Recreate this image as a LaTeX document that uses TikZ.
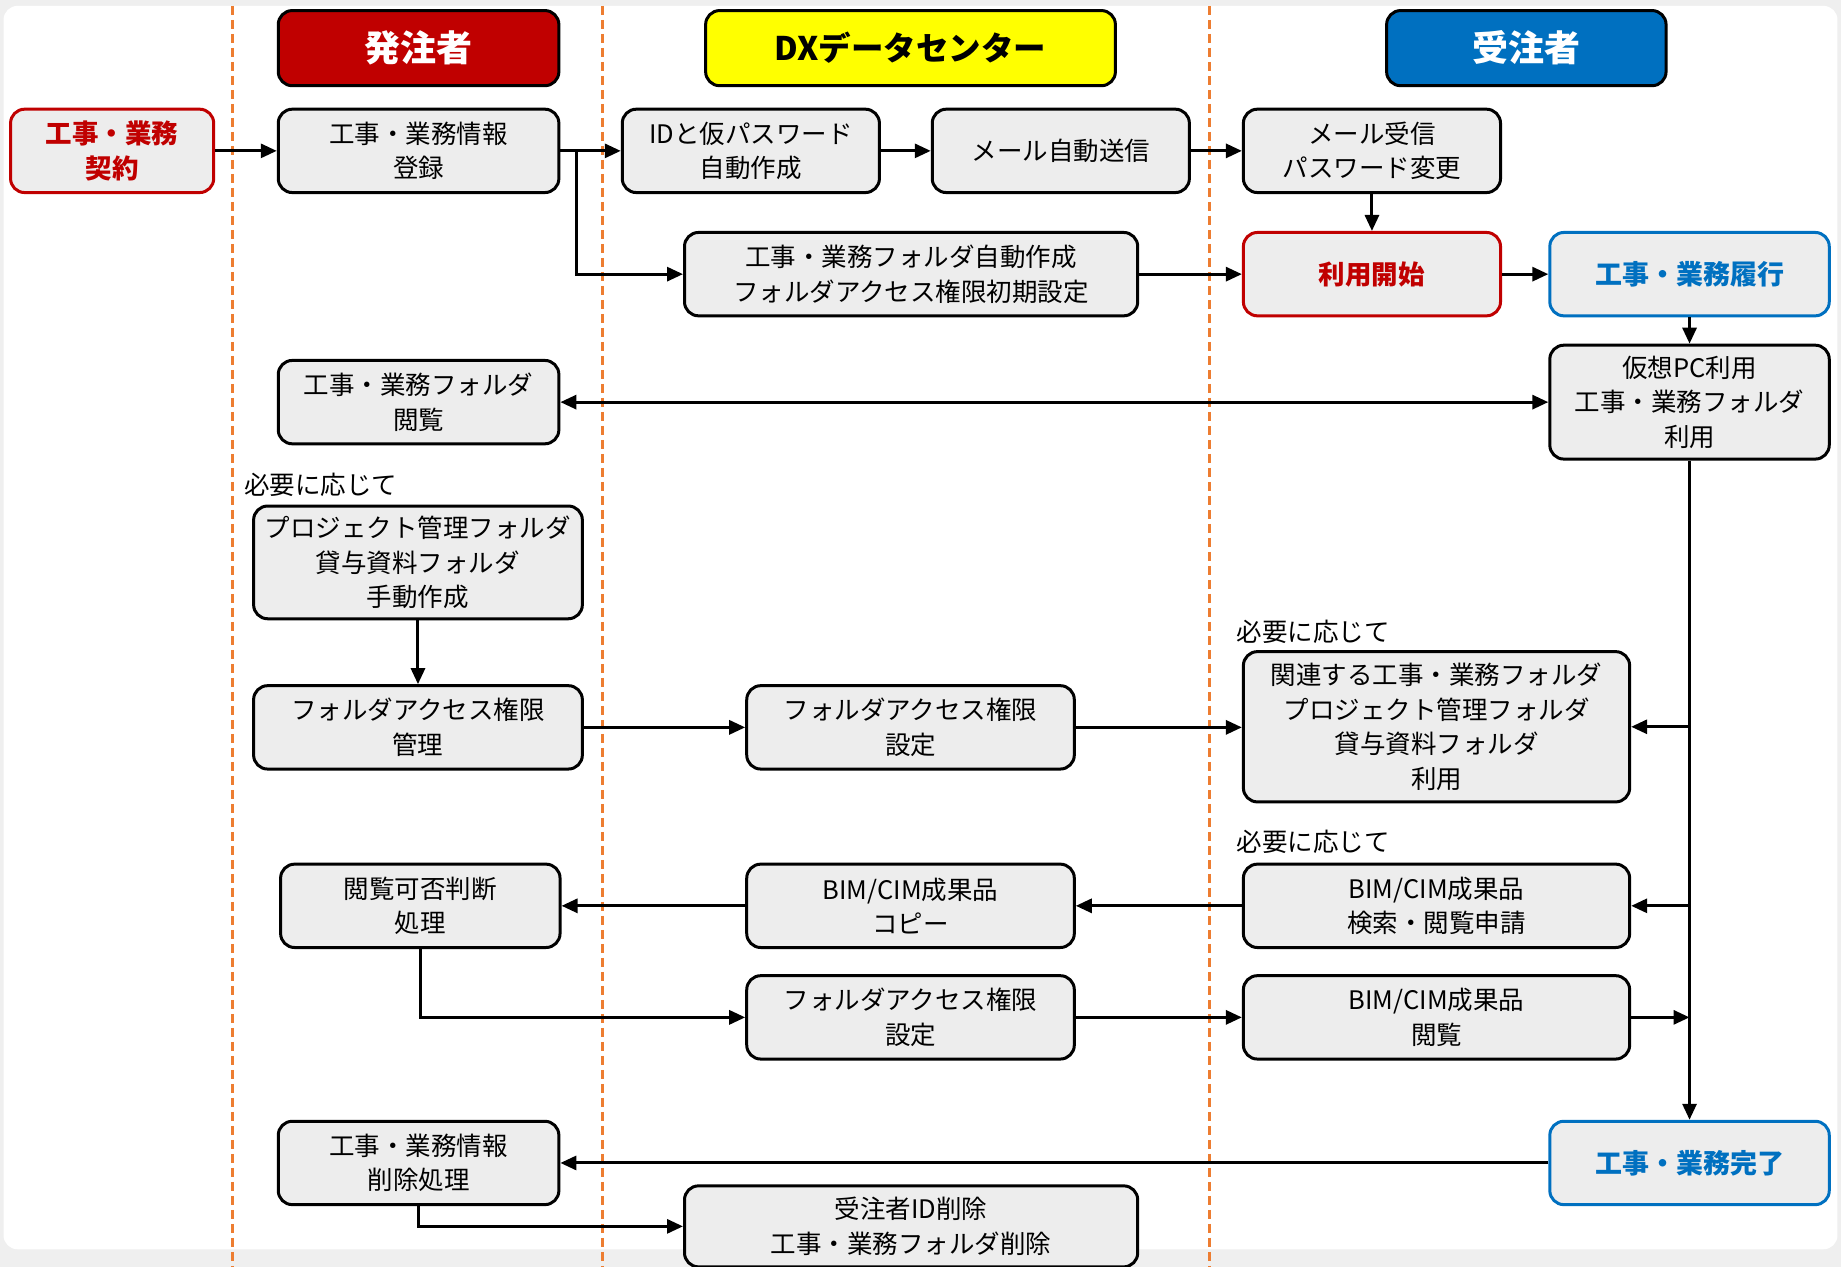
\documentclass[tikz,border=0pt]{standalone}
\usepackage{fontspec}
\setmainfont{Noto Sans CJK JP}
\usetikzlibrary{arrows.meta}
\definecolor{cRed}{HTML}{C00000}
\definecolor{cBlue}{HTML}{0070C0}
\definecolor{cYel}{HTML}{FFFF00}
\definecolor{cGray}{HTML}{EDEDED}
\definecolor{cOrange}{HTML}{ED7D31}
\definecolor{cBack}{HTML}{EFEFEF}
\newcommand\bx[7]{\node[#6, minimum width={(#4-#2)*1.1741pt}, minimum height={(#5-#3)*1.1741pt}] (#1) at ({(#2+#4)/2},{(#3+#5)/2}) {#7};}
\tikzset{
  base/.style={draw=black, line width=3pt, rounded corners=14pt, inner sep=0pt, align=center},
  gbox/.style={base, fill=cGray, font=\fontsize{25.5pt}{34.5pt}\selectfont},
  redbox/.style={gbox, draw=cRed, text=cRed, font=\fontsize{26.5pt}{35pt}\selectfont\bfseries},
  bluebox/.style={gbox, draw=cBlue, text=cBlue, font=\fontsize{27pt}{35pt}\selectfont\bfseries},
  hdred/.style={base, fill=cRed, text=white, font=\fontsize{36pt}{40pt}\selectfont\bfseries},
  hdyel/.style={base, fill=cYel, text=black, font=\fontsize{32.5pt}{40pt}\selectfont\bfseries},
  hdblue/.style={base, fill=cBlue, text=white, font=\fontsize{36pt}{40pt}\selectfont\bfseries},
  arr/.style={line width=3pt, -{Triangle[length=16pt,width=14pt]}},
  darr/.style={line width=3pt, {Triangle[length=16pt,width=14pt]}-{Triangle[length=16pt,width=14pt]}},
  lane/.style={draw=cOrange, line width=2.5pt, dash pattern=on 9pt off 5pt},
  note/.style={anchor=west, inner sep=0pt, font=\fontsize{25.5pt}{30pt}\selectfont}
}
\begin{document}
\begin{tikzpicture}[x=1.1741pt, y=-1.1741pt]
\useasboundingbox (0,0) rectangle (1568,1079);
\fill[cBack] (0,0) rectangle (1568,1079);
\fill[white, rounded corners=14pt] (3,5) rectangle (1565,1064);
% lanes
\coordinate (l1t) at (198,5); \coordinate (l1b) at (198,1079);
\coordinate (l2t) at (513,5); \coordinate (l2b) at (513,1079);
\coordinate (l3t) at (1030,5); \coordinate (l3b) at (1030,1079);
\draw[lane] (l1t) -- (l1b);
\draw[lane] (l2t) -- (l2b);
\draw[lane] (l3t) -- (l3b);
% headers
\bx{hdA}{237}{9}{476}{73}{hdred}{発注者}
\bx{hdB}{601}{9}{950}{73}{hdyel}{DXデータセンター}
\bx{hdC}{1181}{9}{1419}{73}{hdblue}{受注者}
% boxes
\bx{con}{9}{93}{182}{164}{redbox}{工事・業務\\契約}
\bx{reg}{237}{93}{476}{164}{gbox}{工事・業務情報\\登録}
\bx{idg}{530}{93}{749}{164}{gbox}{IDと仮パスワード\\自動作成}
\bx{mail}{794}{93}{1013}{164}{gbox}{メール自動送信}
\bx{recv}{1059}{93}{1278}{164}{gbox}{メール受信\\パスワード変更}
\bx{fold}{583}{198}{969}{269}{gbox}{工事・業務フォルダ自動作成\\フォルダアクセス権限初期設定}
\bx{start}{1059}{198}{1278}{269}{redbox}{利用開始}
\bx{exe}{1320}{198}{1558}{269}{bluebox}{工事・業務履行}
\bx{view}{237}{307}{476}{378}{gbox}{工事・業務フォルダ\\閲覧}
\bx{vpc}{1320}{294}{1558}{391}{gbox}{仮想PC利用\\工事・業務フォルダ\\利用}
\node[note] (n1) at (208,413) {必要に応じて};
\bx{man}{216}{431}{496}{527}{gbox}{プロジェクト管理フォルダ\\貸与資料フォルダ\\手動作成}
\bx{mgmt}{216}{584}{496}{655}{gbox}{フォルダアクセス権限\\管理}
\bx{set1}{636}{584}{915}{655}{gbox}{フォルダアクセス権限\\設定}
\node[note] (n2) at (1053,538) {必要に応じて};
\bx{rel}{1059}{555}{1388}{683}{gbox}{関連する工事・業務フォルダ\\プロジェクト管理フォルダ\\貸与資料フォルダ\\利用}
\node[note] (n3) at (1053,717) {必要に応じて};
\bx{judge}{239}{736}{477}{807}{gbox}{閲覧可否判断\\処理}
\bx{copy}{636}{736}{915}{807}{gbox}{BIM/CIM成果品\\コピー}
\bx{req}{1059}{736}{1388}{807}{gbox}{BIM/CIM成果品\\検索・閲覧申請}
\bx{set2}{636}{831}{915}{902}{gbox}{フォルダアクセス権限\\設定}
\bx{bview}{1059}{831}{1388}{902}{gbox}{BIM/CIM成果品\\閲覧}
\bx{fin}{1320}{955}{1558}{1026}{bluebox}{工事・業務完了}
\bx{del}{237}{955}{476}{1026}{gbox}{工事・業務情報\\削除処理}
\bx{idel}{583}{1010}{969}{1079}{gbox}{受注者ID削除\\工事・業務フォルダ削除}
% connectors
\draw[arr] (con) -- (reg);
\draw[arr] (reg) -- (idg);
\coordinate (j1) at (491,128.5);
\draw[arr] (j1) |- (fold.west);
\draw[arr] (idg) -- (mail);
\draw[arr] (mail) -- (recv);
\draw[arr] (recv) -- (start);
\draw[arr] (fold) -- (start);
\draw[arr] (start) -- (exe);
\draw[arr] (exe) -- (vpc);
\draw[darr] (view) -- (vpc);
\draw[arr] (vpc) -- (fin);
\draw[arr] (vpc.south |- rel.east) -- (rel.east);
\draw[arr] (vpc.south |- req.east) -- (req.east);
\draw[arr] (bview.east) -- (bview.east -| vpc.south);
\draw[arr] (man) -- (mgmt);
\draw[arr] (mgmt) -- (set1);
\draw[arr] (set1.east) -- (set1.east -| rel.west);
\draw[arr] (req) -- (copy);
\draw[arr] (copy) -- (judge);
\draw[arr] (judge.south) |- (set2.west);
\draw[arr] (set2) -- (bview);
\draw[arr] (fin) -- (del);
\draw[arr] (del.south) |- (idel.west);
\end{tikzpicture}
\end{document}
